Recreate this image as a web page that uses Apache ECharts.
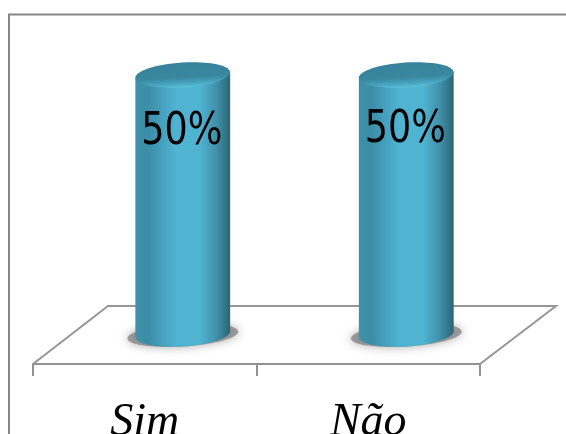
<!DOCTYPE html>
<html><head><meta charset="utf-8">
<style>html,body{margin:0;padding:0;background:#fff}#c{width:566px;height:434px}</style>
<script src="https://cdn.jsdelivr.net/npm/echarts@6/dist/echarts.min.js"></script>
</head><body><div id="c"></div>
<script>
var categories = ['Sim', 'Não'];
var percentValues = [50, 50];
var valueLabels = ['50%', '50%'];

var depthX = 75, depthY = 58, rx = 47.5, ry = 12.5, tilt = 0.065;
var axisDrop = 30;
var labelDy = [0, -2];
var chart = echarts.init(document.getElementById('c'), null, {renderer: 'canvas'});

function ellipsePoint(cx, cy, t) {
  var x = rx * Math.cos(t), y = ry * Math.sin(t);
  return [cx + x * Math.cos(tilt) + y * Math.sin(tilt), cy - x * Math.sin(tilt) + y * Math.cos(tilt)];
}
function bodyOutline(cx, topY, baseY) {
  var pts = [ellipsePoint(cx, topY, Math.PI), ellipsePoint(cx, topY, 0)];
  for (var i = 0; i <= 40; i++) pts.push(ellipsePoint(cx, baseY, i / 40 * Math.PI));
  return pts;
}
var bodyFill = new echarts.graphic.LinearGradient(0, 0, 1, 0, [
  {offset: 0, color: '#3f90a9'}, {offset: 0.14, color: '#3c8ea8'},
  {offset: 0.42, color: '#4fb3d1'}, {offset: 0.68, color: '#4fb4d2'},
  {offset: 0.86, color: '#408fa8'}, {offset: 1, color: '#2b6475'}
]);
var rimFill = new echarts.graphic.LinearGradient(0, 0, 0, 1, [
  {offset: 0, color: '#37829a'}, {offset: 0.6, color: '#3a87a0'},
  {offset: 0.85, color: '#48a6c2'}, {offset: 1, color: '#5cc2dd'}
]);

var option = {
  animation: false,
  backgroundColor: '#fff',
  graphic: [{
    type: 'polyline', silent: true, z: 0,
    shape: {points: [[9, 434], [9, 14.5], [566, 14.5]]},
    style: {stroke: '#868686', lineWidth: 2, fill: null}
  }],
  grid: {left: 33, right: 86, top: 75, bottom: 100, outerBoundsMode: 'none'},
  xAxis: {
    type: 'category', data: categories, offset: axisDrop,
    axisLine: {show: true, onZero: false, lineStyle: {color: '#929292', width: 2}},
    axisTick: {show: true, length: 12, lineStyle: {color: '#929292', width: 2}},
    axisLabel: {
      margin: 36, fontFamily: 'Liberation Serif', fontStyle: 'italic',
      fontSize: 46, color: '#000'
    }
  },
  yAxis: {type: 'value', min: 0, max: 50, show: false},
  series: [{
    type: 'custom', silent: true, z: 1, data: [0],
    renderItem: function (params) {
      var g = params.coordSys, l = g.x, r = g.x + g.width, y = g.y + g.height + axisDrop;
      return {
        type: 'polyline',
        shape: {points: [[l, y], [l + depthX, y - depthY], [r + depthX + 1, y - depthY], [r, y]]},
        style: {stroke: '#969696', lineWidth: 2, fill: null}
      };
    }
  }, {
    type: 'custom', silent: true, z: 2,
    data: categories.map(function (c, i) { return [i, percentValues[i]]; }),
    encode: {x: 0, y: 1},
    renderItem: function (params, api) {
      var i = api.value(0);
      var top = api.coord([i, api.value(1)]);
      var base = api.coord([i, 0]);
      var cx = top[0] + depthX / 2 + 0.5;
      return {
        type: 'group',
        children: [{
          type: 'ellipse', z2: 1,
          shape: {cx: 0, cy: 0, rx: rx + 8, ry: ry - 1},
          x: cx, y: base[1] + 1, rotation: tilt,
          style: {fill: 'rgba(130,130,130,0.75)', shadowBlur: 10, shadowColor: 'rgba(130,130,130,0.9)'}
        }, {
          type: 'polygon', z2: 2,
          shape: {points: bodyOutline(cx, top[1], base[1])},
          style: {fill: bodyFill}
        }, {
          type: 'ellipse', z2: 3,
          shape: {cx: 0, cy: 0, rx: rx, ry: ry},
          x: cx, y: top[1], rotation: tilt,
          style: {fill: rimFill}
        }, {
          type: 'text', z2: 4,
          x: cx - 1, y: 132 + labelDy[i], scaleY: 1.22,
          style: {
            text: valueLabels[i], fill: '#000', fontSize: 36.5,
            fontFamily: 'DejaVu Sans', align: 'center', verticalAlign: 'middle'
          }
        }]
      };
    }
  }]
};
chart.setOption(option);
</script></body></html>
